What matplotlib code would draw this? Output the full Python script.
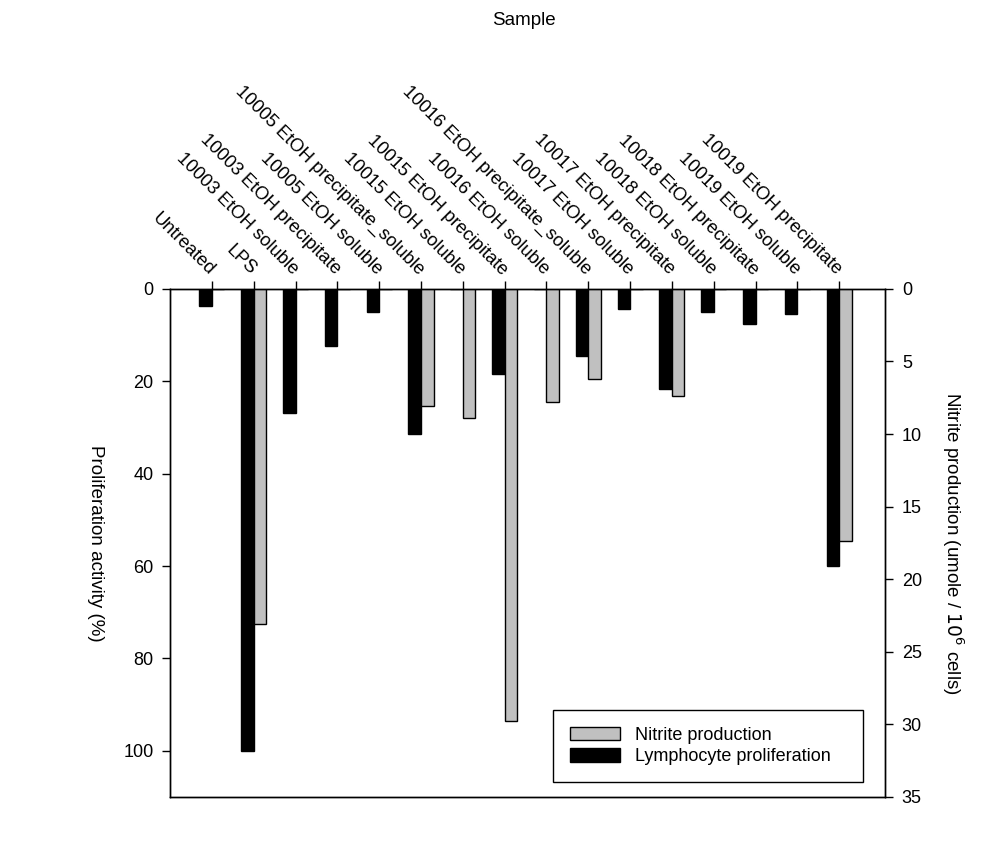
import matplotlib
matplotlib.use('Agg')
import matplotlib.pyplot as plt
from matplotlib.patches import Patch
import numpy as np

plt.rcParams['font.family'] = ['Liberation Sans', 'DejaVu Sans']

# samples on the x axis
samples = ['Untreated', 'LPS',
           '10003 EtOH soluble', '10003 EtOH precipitate',
           '10005 EtOH soluble', '10005 EtOH precipitate_soluble',
           '10015 EtOH soluble', '10015 EtOH precipitate',
           '10016 EtOH soluble', '10016 EtOH precipitate_soluble',
           '10017 EtOH soluble', '10017 EtOH precipitate',
           '10018 EtOH soluble', '10018 EtOH precipitate',
           '10019 EtOH soluble', '10019 EtOH precipitate']
# lymphocyte proliferation (%), left axis
proliferation = [3.8, 100, 26.9, 12.3, 5.1, 31.5, 0, 18.4,
                 0, 14.5, 4.4, 21.7, 4.9, 7.5, 5.5, 59.9]
# nitrite production, right axis
nitrite = [0, 23.1, 0, 0, 0, 8.1, 8.9, 29.8,
           7.8, 6.2, 0, 7.4, 0, 0, 0, 17.4]

x = np.arange(1, len(samples) + 1)
w = 0.3

fig = plt.figure(figsize=(9.89, 8.46), dpi=100)
ax = fig.add_axes([0.172, 0.058, 0.723, 0.6005])
ax2 = ax.twinx()

ax.bar(x - w / 2, proliferation, width=w, color='black', edgecolor='black', linewidth=1)
ax2.bar(x + w / 2, nitrite, width=w, color='#c0c0c0', edgecolor='black', linewidth=1)

ax.set_xlim(0, 17.1)
ax.set_ylim(110, 0)
ax2.set_ylim(35, 0)
ax.set_yticks([0, 20, 40, 60, 80, 100])
ax2.set_yticks([0, 5, 10, 15, 20, 25, 30, 35])

ax.xaxis.tick_top()
ax.set_xticks(x)
ax.set_xticklabels(samples, rotation=-45, ha='right', va='center',
                   rotation_mode='anchor', fontsize=13.2)
ax.tick_params(axis='x', direction='out', length=6, width=1, pad=6)
ax.tick_params(axis='y', direction='out', length=6, width=1, labelsize=13, pad=6)
ax2.tick_params(axis='y', direction='out', length=6, width=1, labelsize=13, pad=6)

for s in ax.spines.values():
    s.set_linewidth(1)
for s in ax2.spines.values():
    s.set_linewidth(1)

fig.text(0.53, 0.976, 'Sample', ha='center', va='center', fontsize=13.5)
ax.set_ylabel('Proliferation activity (%)', rotation=270, fontsize=13.5, labelpad=20, va='center')
ax2.set_ylabel('Nitrite production (umole / $10^6$ cells)', rotation=270, fontsize=13.5,
               labelpad=22, va='center')

handles = [Patch(facecolor='#c0c0c0', edgecolor='black', label='Nitrite production'),
           Patch(facecolor='black', edgecolor='black', label='Lymphocyte proliferation')]
leg = ax.legend(handles=handles, loc='lower left', bbox_to_anchor=(0.536, 0.03, 0.433, 0.151),
                mode='expand', fontsize=13, fancybox=False, edgecolor='black',
                handlelength=2.8, handleheight=0.8, borderaxespad=0, labelspacing=0.25,
                borderpad=0.9)
leg.get_frame().set_linewidth(1)
leg.get_frame().set_alpha(1)

plt.savefig('out.png', dpi=100)
